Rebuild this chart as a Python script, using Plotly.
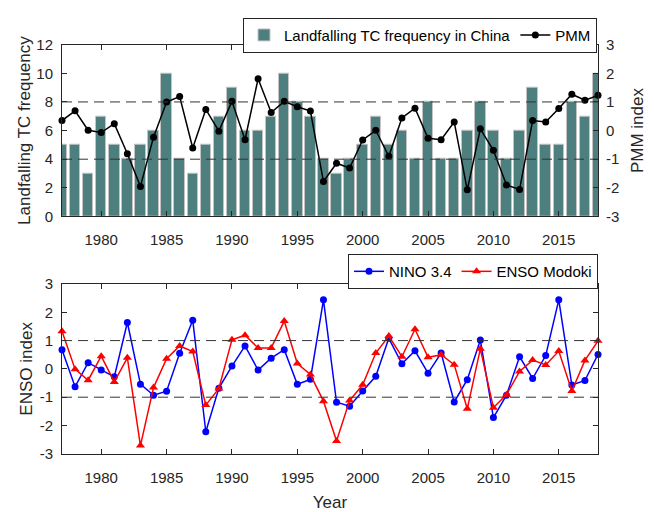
import plotly.graph_objects as go

years = list(range(1977, 2019))

# Annual count of tropical cyclones making landfall in China
tc_freq = [5, 5, 3, 7, 5, 4, 5, 6, 10, 4, 3, 5, 7, 9, 6,
           6, 7, 10, 8, 7, 4, 3, 4, 5, 7, 5, 6, 4, 8, 4,
           4, 6, 8, 6, 4, 6, 9, 5, 5, 8, 7, 10]

# Pacific Meridional Mode index
pmm = [0.35, 0.69, 0.01, -0.07, 0.24, -0.81, -1.95, -0.23, 1.00, 1.19, -0.61,
       0.74, -0.02, 1.02, -0.32, 1.81, 0.63, 1.02, 0.83, 0.68, -1.78, -1.14,
       -1.31, -0.33, 0.01, -0.90, 0.44, 0.78, -0.27, -0.32, 0.30, -2.07, 0.06,
       -0.69, -1.90, -2.06, 0.35, 0.30, 0.77, 1.27, 1.06, 1.23]

nino34 = [0.68, -0.63, 0.22, -0.04, -0.28, 1.64, -0.54, -0.93, -0.79, 0.55, 1.72,
          -2.22, -0.68, 0.10, 0.81, -0.04, 0.38, 0.68, -0.54, -0.37, 2.44, -1.18,
          -1.32, -0.78, -0.26, 1.08, 0.18, 0.64, -0.15, 0.56, -1.17, -0.38, 1.02,
          -1.72, -0.93, 0.43, -0.34, 0.47, 2.44, -0.57, -0.41, 0.51]

modoki = [1.33, -0.01, -0.40, 0.45, -0.46, 0.39, -2.71, -0.66, 0.36, 0.81, 0.61,
          -1.28, -0.69, 1.03, 1.19, 0.74, 0.74, 1.69, 0.19, -0.20, -1.14, -2.55,
          -1.12, -0.56, 0.56, 1.16, 0.43, 1.40, 0.41, 0.50, 0.15, -1.41, 0.71,
          -1.37, -0.91, -0.09, 0.31, 0.14, 0.63, -0.78, 0.30, 0.99]

x_ticks = [1980, 1985, 1990, 1995, 2000, 2005, 2010, 2015]
left_ticks = [0, 2, 4, 6, 8, 10, 12]
index_ticks = [-3, -2, -1, 0, 1, 2, 3]
index_labels = [str(v) for v in index_ticks]

FONT = "Liberation Sans, Arial, Helvetica, sans-serif"
INK = "#262626"

fig = go.Figure()

fig.add_trace(go.Bar(
    x=years, y=tc_freq, width=0.8,
    marker=dict(color="#4e7f7f", line=dict(color="#c4c4c4", width=1)),
    name="Landfalling TC frequency in China",
    xaxis="x", yaxis="y", legend="legend",
))
fig.add_trace(go.Scatter(
    x=years, y=pmm, mode="lines+markers",
    line=dict(color="black", width=1.5),
    marker=dict(symbol="circle", size=7, color="black"),
    name="PMM", xaxis="x", yaxis="y2", legend="legend", cliponaxis=False,
))
fig.add_trace(go.Scatter(
    x=years, y=nino34, mode="lines+markers",
    line=dict(color="#0000ff", width=1.5),
    marker=dict(symbol="circle", size=7, color="#0000ff"),
    name="NINO 3.4", xaxis="x2", yaxis="y3", legend="legend2", cliponaxis=False,
))
fig.add_trace(go.Scatter(
    x=years, y=modoki, mode="lines+markers",
    line=dict(color="#ff0000", width=1.5),
    marker=dict(symbol="triangle-up", size=8, color="#ff0000"),
    name="ENSO Modoki", xaxis="x2", yaxis="y3", legend="legend2", cliponaxis=False,
))

# Dashed +/-1 reference lines in both panels
for yref in ("y2", "y3"):
    for v in (1, -1):
        fig.add_shape(type="line", xref="x" if yref == "y2" else "x2", yref=yref,
                      x0=1977, x1=2018, y0=v, y1=v, layer="above",
                      line=dict(color="#333333", width=1, dash="10px,6px"))

xdom = [62 / 654, 598 / 654]
top_dom = [1 - 215 / 512, 1 - 37 / 512]
bot_dom = [1 - 461 / 512, 1 - 285 / 512]

axis_common = dict(showline=True, linecolor=INK, linewidth=1, ticks="inside",
                   ticklen=5, tickcolor=INK, showgrid=False, zeroline=False,
                   tickfont=dict(family=FONT, size=15, color=INK))
title_font = dict(family=FONT, size=17, color=INK)

fig.update_layout(
    width=654, height=512,
    margin=dict(l=0, r=0, t=0, b=0),
    paper_bgcolor="white", plot_bgcolor="white",
    font=dict(family=FONT, color=INK),
    bargap=0,
    xaxis=dict(domain=xdom, anchor="y", range=[1977, 2018], tickvals=x_ticks,
               mirror="ticks", ticklabelstandoff=10, **axis_common),
    yaxis=dict(domain=top_dom, anchor="x", range=[0, 12], tickvals=left_ticks,
               mirror=True, ticklabelstandoff=5,
               title=dict(text="Landfalling TC frequency", font=title_font,
                          standoff=1),
               **axis_common),
    yaxis2=dict(overlaying="y", side="right", anchor="x", range=[-3, 3],
                tickvals=index_ticks, ticktext=index_labels, ticklabelstandoff=4,
                title=dict(text="PMM index", font=title_font, standoff=12),
                **axis_common),
    xaxis2=dict(domain=xdom, anchor="y3", range=[1977, 2018], tickvals=x_ticks,
                mirror="ticks", ticklabelstandoff=10,
                title=dict(text="Year", font=title_font, standoff=14),
                **axis_common),
    yaxis3=dict(domain=bot_dom, anchor="x2", range=[-3, 3], tickvals=index_ticks,
                ticktext=index_labels, mirror="ticks", ticklabelstandoff=5,
                title=dict(text="ENSO index", font=title_font, standoff=2),
                **axis_common),
    legend=dict(orientation="h", x=597 / 654, xanchor="right",
                y=1 - 9 / 512, yanchor="top",
                bgcolor="white", bordercolor=INK, borderwidth=1,
                font=dict(family=FONT, size=15, color="black"),
                itemwidth=30, tracegroupgap=0),
    legend2=dict(orientation="h", x=598 / 654, xanchor="right",
                 y=1 - 254 / 512, yanchor="top",
                 bgcolor="white", bordercolor=INK, borderwidth=1,
                 font=dict(family=FONT, size=15, color="black"),
                 itemwidth=30, tracegroupgap=0),
)

fig.write_html("out.html")
